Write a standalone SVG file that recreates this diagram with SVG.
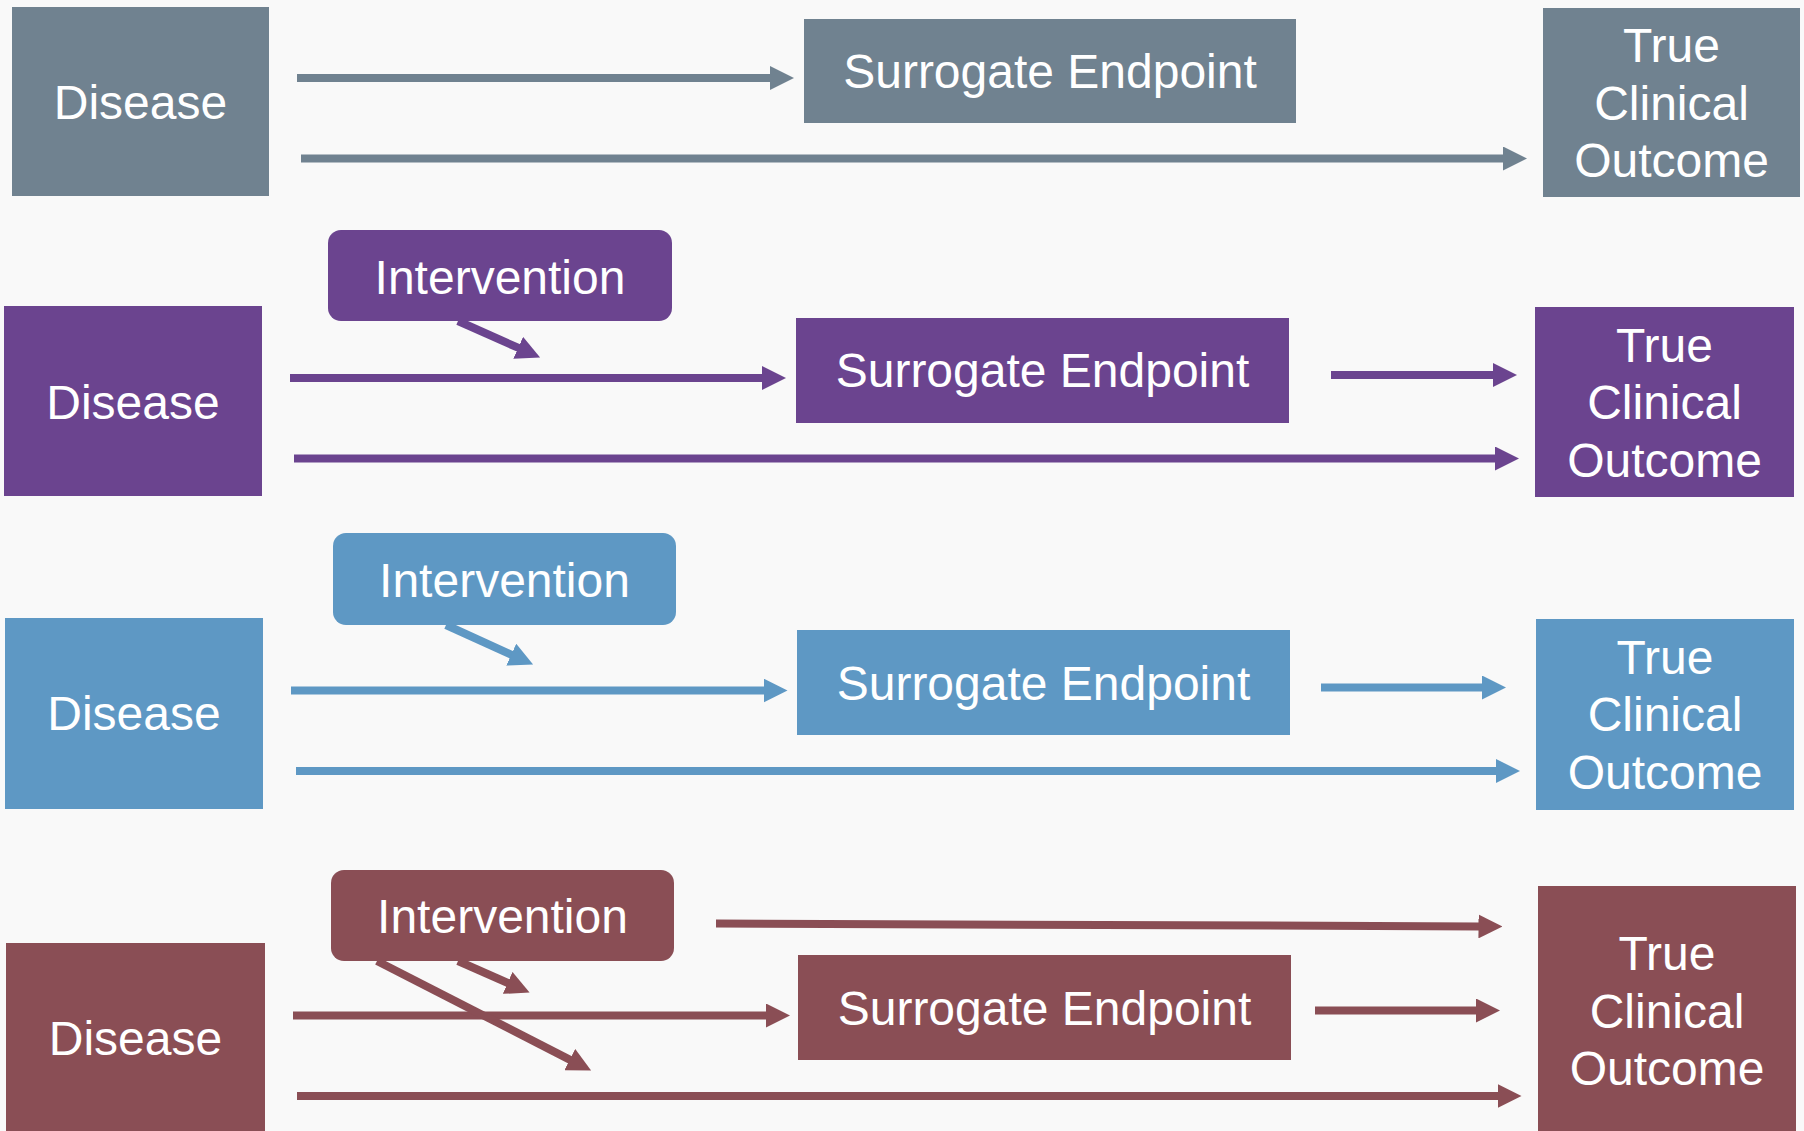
<svg xmlns="http://www.w3.org/2000/svg" width="1804" height="1131" viewBox="0 0 1804 1131">
<style>
text{font-family:"Liberation Sans",Arial,sans-serif;font-size:48px;fill:#ffffff;text-anchor:middle}
.g{fill:#708290}.p{fill:#6B448F}.b{fill:#5E98C4}.m{fill:#8A4E55}
.cg{stroke:#708290;stroke-width:8;fill:none;marker-end:url(#ag)}
.cp{stroke:#6B448F;stroke-width:8;fill:none;marker-end:url(#ap)}
.cb{stroke:#5E98C4;stroke-width:8;fill:none;marker-end:url(#ab)}
.cm{stroke:#8A4E55;stroke-width:8;fill:none;marker-end:url(#am)}
</style>
<defs>
<marker id="ag" viewBox="0 0 24 24" markerWidth="24" markerHeight="24" markerUnits="userSpaceOnUse" refX="1" refY="12" orient="auto"><path d="M0,0 L24,12 L0,24 z" fill="#708290"/></marker>
<marker id="ap" viewBox="0 0 24 24" markerWidth="24" markerHeight="24" markerUnits="userSpaceOnUse" refX="1" refY="12" orient="auto"><path d="M0,0 L24,12 L0,24 z" fill="#6B448F"/></marker>
<marker id="ab" viewBox="0 0 24 24" markerWidth="24" markerHeight="24" markerUnits="userSpaceOnUse" refX="1" refY="12" orient="auto"><path d="M0,0 L24,12 L0,24 z" fill="#5E98C4"/></marker>
<marker id="am" viewBox="0 0 24 24" markerWidth="24" markerHeight="24" markerUnits="userSpaceOnUse" refX="1" refY="12" orient="auto"><path d="M0,0 L24,12 L0,24 z" fill="#8A4E55"/></marker>
</defs>
<rect x="0" y="0" width="1804" height="1131" fill="#F9F9F9"/>

<g id="connectors">
<line class="cg" x1="297" y1="78" x2="771" y2="78"/>
<line class="cg" x1="301" y1="158.5" x2="1504" y2="158.5"/>

<line class="cp" x1="290" y1="378" x2="763" y2="378"/>
<line class="cp" x1="294" y1="458.5" x2="1496" y2="458.5"/>
<line class="cp" x1="1331" y1="375" x2="1494" y2="375"/>
<line class="cp" x1="458" y1="321" x2="519.1" y2="348.2"/>

<line class="cb" x1="291" y1="690.5" x2="764.5" y2="690.5"/>
<line class="cb" x1="296" y1="771" x2="1497" y2="771"/>
<line class="cb" x1="1321" y1="687.5" x2="1483" y2="687.5"/>
<line class="cb" x1="446" y1="625" x2="512.15" y2="655.07"/>

<line class="cm" x1="293" y1="1015.5" x2="767" y2="1015.5"/>
<line class="cm" x1="297" y1="1096" x2="1498.5" y2="1096"/>
<line class="cm" x1="1315" y1="1010.5" x2="1477" y2="1010.5"/>
<line class="cm" x1="716" y1="923.5" x2="1479.5" y2="926.4"/>
<line class="cm" x1="458" y1="961" x2="508.54" y2="983.31"/>
<line class="cm" x1="377" y1="961" x2="570.63" y2="1060.07"/>
</g>

<g id="disease1"><rect class="g" x="12" y="7" width="257" height="189"/><text x="140.5" y="118.5">Disease</text></g>
<g id="surrogate1"><rect class="g" x="804" y="19" width="492" height="104"/><text x="1050" y="88">Surrogate Endpoint</text></g>
<g id="outcome1"><rect class="g" x="1543" y="8" width="257" height="189"/><text x="1671.5" y="62">True</text><text x="1671.5" y="119.5">Clinical</text><text x="1671.5" y="177">Outcome</text></g>

<g id="intervention2"><rect class="p" x="328" y="230" width="344" height="91" rx="13"/><text x="500" y="293.5">Intervention</text></g>
<g id="disease2"><rect class="p" x="4" y="306" width="258" height="190"/><text x="133" y="419">Disease</text></g>
<g id="surrogate2"><rect class="p" x="796" y="318" width="493" height="105"/><text x="1042.5" y="387">Surrogate Endpoint</text></g>
<g id="outcome2"><rect class="p" x="1535" y="307" width="259" height="190"/><text x="1664.5" y="361.5">True</text><text x="1664.5" y="419">Clinical</text><text x="1664.5" y="476.5">Outcome</text></g>

<g id="intervention3"><rect class="b" x="333" y="533" width="343" height="92" rx="13"/><text x="504.5" y="596.5">Intervention</text></g>
<g id="disease3"><rect class="b" x="5" y="618" width="258" height="191"/><text x="134" y="730">Disease</text></g>
<g id="surrogate3"><rect class="b" x="797" y="630" width="493" height="105"/><text x="1043.5" y="699.5">Surrogate Endpoint</text></g>
<g id="outcome3"><rect class="b" x="1536" y="619" width="258" height="191"/><text x="1665" y="674">True</text><text x="1665" y="731">Clinical</text><text x="1665" y="788.5">Outcome</text></g>

<g id="intervention4"><rect class="m" x="331" y="870" width="343" height="91" rx="13"/><text x="502.5" y="933">Intervention</text></g>
<g id="disease4"><rect class="m" x="6" y="943" width="259" height="190"/><text x="135.5" y="1055">Disease</text></g>
<g id="surrogate4"><rect class="m" x="798" y="955" width="493" height="105"/><text x="1044.5" y="1025">Surrogate Endpoint</text></g>
<g id="outcome4"><rect class="m" x="1538" y="886" width="258" height="250"/><text x="1667" y="970">True</text><text x="1667" y="1027.5">Clinical</text><text x="1667" y="1085">Outcome</text></g>
</svg>
